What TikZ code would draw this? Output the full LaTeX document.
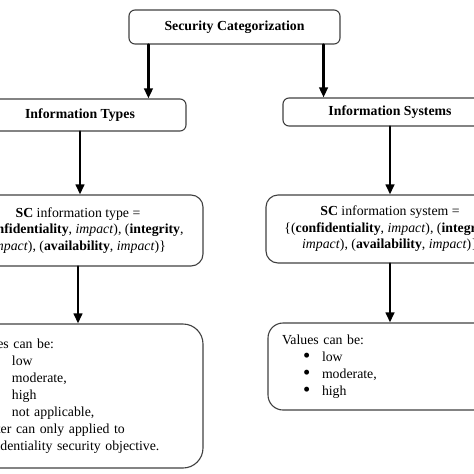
\documentclass[tikz,border=0pt]{standalone}
\usepackage{fontspec}
\setmainfont{Liberation Serif}
\usetikzlibrary{arrows.meta}

\newcommand{\valitem}[1]{\makebox[40pt][l]{\hspace*{21pt}\raisebox{-1.6pt}{\scalebox{1.5}{\textbullet}}}#1}

\begin{document}
\begin{tikzpicture}[line cap=round,x=1pt,y=-1pt,
  box/.style={draw=black!75,line width=1.1pt,rounded corners=6pt,inner sep=0pt,align=center,font=\fontsize{13.8}{16.5}\selectfont},
  valbox/.style={box,align=left,font=\fontsize{13.8}{17}\selectfont},
  arr/.style={line width=2.4pt,-{Triangle[length=10pt,width=8.5pt]}}]
\useasboundingbox (0,0) rectangle (474,474);
\clip (0,0) rectangle (474,474);
\node[box,minimum width=211pt,minimum height=34pt] (cat) at (234.5,27) {\textbf{Security Categorization}};
\node[box,minimum width=212pt,minimum height=32pt] (types) at (80,115) {\textbf{Information Types}};
\node[box,minimum width=214pt,minimum height=28pt] (systems) at (390,112) {\textbf{Information Systems}};
\node[box,rounded corners=12pt,minimum width=250pt,minimum height=71pt] (sctype) at (78,230.5) {\textbf{SC} information type =\\\{(\textbf{confidentiality}, \textit{impact}), (\textbf{integrity},\\\textit{impact}), (\textbf{availability}, \textit{impact})\}};
\node[box,rounded corners=12pt,minimum width=248pt,minimum height=68pt] (scsys) at (390,229) {\textbf{SC} information system =\\\{(\textbf{confidentiality}, \textit{impact}), (\textbf{integrity},\\\textit{impact}), (\textbf{availability}, \textit{impact})\}};
\node[valbox,rounded corners=20pt,minimum width=245pt,minimum height=144pt,text width=217pt] (valtype) at (80.5,396) {Values can be:\\\valitem{low}\\\valitem{moderate,}\\\valitem{high}\\\valitem{not applicable,}\\\hspace*{-15pt}The latter can only applied to\\confidentiality security objective.};
\node[valbox,rounded corners=15pt,minimum width=246pt,minimum height=87pt,text width=218pt] (valsys) at (391,366.5) {Values can be:\\\valitem{low}\\\valitem{moderate,}\\\valitem{high}};
\draw[arr] ([xshift=20pt]cat.south west) -- ([xshift=20pt]cat.south west |- types.north);
\draw[arr] ([xshift=-17pt]cat.south east) -- ([xshift=-17pt]cat.south east |- systems.north);
\draw[arr] (types.south) -- (types.south |- sctype.north);
\draw[arr] (systems.south) -- (systems.south |- scsys.north);
\draw[arr] (sctype.south) -- (sctype.south |- valtype.north);
\draw[arr] (scsys.south) -- (scsys.south |- valsys.north);
\end{tikzpicture}
\end{document}
